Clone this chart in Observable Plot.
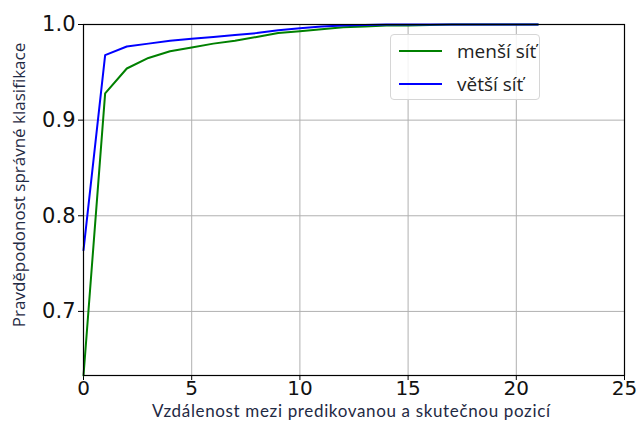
<!DOCTYPE html>
<html>
<head>
<meta charset="utf-8">
<script src="https://cdn.jsdelivr.net/npm/d3@7"></script>
<script src="https://cdn.jsdelivr.net/npm/@observablehq/plot@0.6"></script>
<style>
  html, body { margin: 0; padding: 0; background: #fff; }
  #wrap { position: relative; width: 637px; height: 421px; }
  #legend {
    position: absolute; left: 390px; top: 34px; width: 150px; height: 66px;
    border: 1px solid #d6d6d6; border-radius: 4px; background: rgba(255,255,255,0.85);
    box-sizing: border-box; font-family: "Open Sans", "Noto Sans", sans-serif; font-size: 19px; color: #222;
  }
  .item { position: absolute; left: 8px; height: 22px; display: flex; align-items: center; }
  .swatch { width: 43px; height: 0; border-top: 2px solid; margin-right: 15px; }
</style>
</head>
<body>
<div id="wrap"></div>
<script>
const distance = [0,1,2,3,4,5,6,7,8,9,10,11,12,13,14,15,16,17,18,19,20,21];
const smallNet = [0.633,0.928,0.954,0.965,0.972,0.976,0.980,0.983,0.987,0.991,0.993,0.995,0.997,0.998,0.999,0.999,0.9995,1.0,1.0,1.0,1.0,1.0];
const bigNet   = [0.764,0.968,0.977,0.980,0.983,0.985,0.987,0.989,0.991,0.994,0.996,0.998,0.999,0.9995,1.0,1.0,1.0,1.0,1.0,1.0,1.0,1.0];
const seriesNames = ["menší síť", "větší síť"];
const seriesColors = ["green", "blue"];
const xTicks = [0,5,10,15,20,25];
const yTicks = [0.7,0.8,0.9,1.0];
const xLabel = "Vzdálenost mezi predikovanou a skutečnou pozicí";
const yLabel = "Pravděpodonost správné klasifikace";

const data = [];
distance.forEach((d,i) => {
  data.push({x: d, y: smallNet[i], s: seriesNames[0]});
  data.push({x: d, y: bigNet[i], s: seriesNames[1]});
});

const chart = Plot.plot({
  width: 637, height: 421,
  marginLeft: 83, marginRight: 13, marginTop: 24, marginBottom: 46,
  style: {fontFamily: "DejaVu Sans, sans-serif", background: "white"},
  x: {domain: [0,25]},
  y: {domain: [0.633, 1.0]},
  color: {domain: seriesNames, range: seriesColors},
  marks: [
    Plot.gridX(xTicks, {stroke: "#b0b0b0", strokeOpacity: 1, strokeWidth: 1}),
    Plot.gridY(yTicks, {stroke: "#b0b0b0", strokeOpacity: 1, strokeWidth: 1}),
    Plot.axisX(xTicks, {label: null, fontSize: 20, tickSize: 5, tickPadding: 0, stroke: "black", fill: "#111", tickFormat: d => String(d)}),
    Plot.axisY(yTicks, {label: null, fontSize: 21, tickSize: 5, tickPadding: 3, stroke: "black", fill: "#111", tickFormat: d3.format(".1f")}),
    Plot.line(data, {x: "x", y: "y", z: "s", stroke: "s", strokeWidth: 2}),
    Plot.frame({stroke: "black", strokeWidth: 1.2})
  ]
});

document.getElementById("wrap").appendChild(chart);
const svg = d3.select(chart);
svg.append("text")
  .attr("x", 351).attr("y", 416.5)
  .attr("text-anchor", "middle")
  .attr("font-family", "Lato, Open Sans, sans-serif")
  .attr("font-size", 17).attr("fill", "#1f2a44")
  .attr("textLength", 398).attr("lengthAdjust", "spacing")
  .text(xLabel);
svg.append("text")
  .attr("transform", "translate(25,185) rotate(-90)")
  .attr("text-anchor", "middle")
  .attr("font-family", "Open Sans, Noto Sans, sans-serif")
  .attr("font-size", 17).attr("fill", "#1f2a44")
  .text(yLabel);

const legend = d3.select("#wrap").append("div").attr("id", "legend");
seriesNames.forEach((n, i) => {
  const it = legend.append("div").attr("class", "item").style("top", (5 + i*33) + "px");
  it.append("div").attr("class", "swatch").style("border-color", seriesColors[i]);
  it.append("span").text(n);
});
</script>
</body>
</html>
